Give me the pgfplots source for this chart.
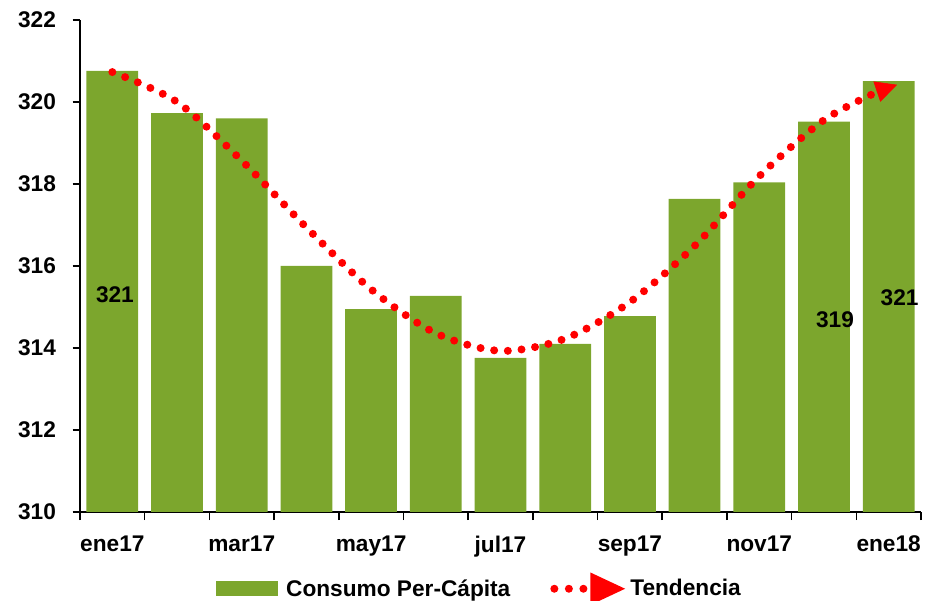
\documentclass[border=0pt]{standalone}
\usepackage{fontspec}
\setmainfont{Liberation Sans}
\usepackage{pgfplots}
\pgfplotsset{compat=1.18}
\usetikzlibrary{arrows.meta}
\definecolor{barg}{RGB}{124,166,45}
\newcommand{\lbl}{\fontsize{17}{20}\selectfont\bfseries}
\begin{document}
\begin{tikzpicture}
\path[use as bounding box] (0,0) rectangle (699pt,450pt);
\begin{axis}[
  at={(60pt,66pt)}, anchor=south west,
  scale only axis, width=630.75pt, height=369pt,
  xmin=-0.5, xmax=12.5, ymin=310, ymax=322,
  axis lines*=left,
  axis line style={line width=1.2pt, black},
  xtick={0,2,...,12},
  xticklabels={ene17,mar17,may17,jul17,sep17,nov17,ene18},
  minor xtick={-0.5,0.5,...,12.5},
  ytick={310,312,...,322},
  tick align=outside,
  major tick length=5.5pt,
  minor tick length=6pt,
  major x tick style={draw=none},
  tick style={line width=1.2pt, black},
  /pgf/number format/assume math mode=true,
  tick label style={font=\lbl},
  yticklabel style={xshift=-9pt},
  xticklabel style={yshift=-9pt},
  clip=false,
  legend columns=2,
  legend style={draw=none, fill=none, font=\lbl, at={(0.475,-0.156)}, anchor=center,
    /tikz/every even column/.append style={column sep=28pt}},
]
\addplot[ybar, bar width=0.8, fill=barg, draw=none,
  legend image code/.code={\fill[barg] (0pt,-5.6pt) rectangle (46.5pt,5.6pt); \path (51pt,0pt);}]
  coordinates {(0,320.76) (1,319.73) (2,319.60) (3,316.00) (4,314.95) (5,315.27) (6,313.76)
    (7,314.10) (8,314.78) (9,317.64) (10,318.04) (11,319.52) (12,320.51)};
\addlegendentry{Consumo Per-Cápita}
\addplot[red, line width=6pt, line cap=round, dash pattern=on 0pt off 10.3pt, smooth,
  legend image code/.code={
    \draw[-, red, line width=6pt, line cap=round, dash pattern=on 0pt off 10.9pt] (0pt,0pt) -- (23pt,0pt);
    \fill[red, solid] (30pt,-7.5pt) -- (46pt,0pt) -- (30pt,7.5pt) -- cycle; \path (52pt,0pt);}]
  coordinates {(0,320.73) (1,320.00) (2,318.57) (3,316.94) (4,315.43) (5,314.36) (6,313.93)
    (7,314.23) (8,315.12) (9,316.49) (10,318.19) (11,319.56) (11.9,320.30)};
\addlegendentry{Tendencia}
\addplot[red, solid, line width=0.4pt, -{Triangle[length=16pt,width=16pt]}, forget plot]
  coordinates {(11.85,320.27) (12.13,320.42)};
\node[font=\lbl] at (axis cs:0.04,315.29) {321};
\node[font=\lbl] at (axis cs:11.17,314.68) {319};
\node[font=\lbl] at (axis cs:12.17,315.22) {321};
\end{axis}
\end{tikzpicture}
\end{document}
